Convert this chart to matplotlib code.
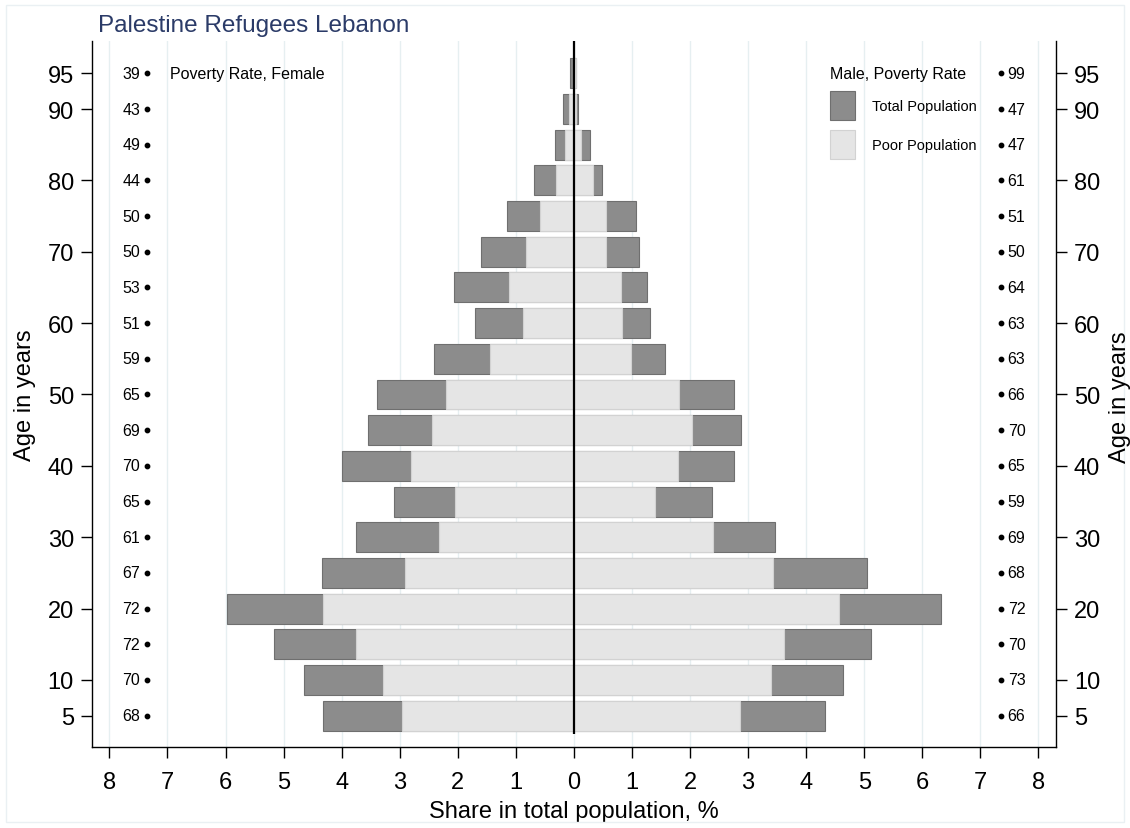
import numpy as np
import matplotlib
matplotlib.use("Agg")
import matplotlib.pyplot as plt
from matplotlib.patches import Patch, Rectangle

plt.rcParams['font.family'] = ['Liberation Sans', 'DejaVu Sans']

# age groups (centre of 5-year band)
ages = [5, 10, 15, 20, 25, 30, 35, 40, 45, 50, 55, 60, 65, 70, 75, 80, 85, 90, 95]

# share in total population, %
female_total = [4.32, 4.65, 5.16, 5.98, 4.34, 3.75, 3.10, 3.99, 3.55, 3.40,
                2.41, 1.70, 2.06, 1.60, 1.15, 0.69, 0.32, 0.19, 0.06]
female_poor = [2.96, 3.29, 3.75, 4.33, 2.91, 2.33, 2.05, 2.80, 2.45, 2.21,
               1.45, 0.88, 1.12, 0.82, 0.59, 0.31, 0.155, 0.09, 0.02]
male_total = [4.32, 4.63, 5.11, 6.33, 5.04, 3.47, 2.38, 2.75, 2.88, 2.76,
              1.56, 1.31, 1.25, 1.12, 1.07, 0.49, 0.28, 0.07, 0.04]
male_poor = [2.86, 3.39, 3.61, 4.56, 3.43, 2.40, 1.40, 1.79, 2.04, 1.81,
             0.99, 0.83, 0.81, 0.56, 0.55, 0.32, 0.13, 0.03, 0.04]

# poverty rate by age group
female_rate = [68, 70, 72, 72, 67, 61, 65, 70, 69, 65, 59, 51, 53, 50, 50, 44, 49, 43, 39]
male_rate = [66, 73, 70, 72, 68, 69, 59, 65, 70, 66, 63, 63, 64, 50, 51, 61, 47, 47, 99]

ytick_vals = [5, 10, 20, 30, 40, 50, 60, 70, 80, 90, 95]
xtick_vals = list(range(-8, 9))

dark = '#8c8c8c'
light = '#e5e5e5'

fig = plt.figure(figsize=(11.3, 8.29), dpi=100)
ax = fig.add_axes([0.0814, 0.0977, 0.853, 0.8513])

# faint outer frame
fig.patches.append(Rectangle((6 / 1130, 6 / 829), 1 - 12 / 1130, 1 - 12 / 829,
                             transform=fig.transFigure, fill=False,
                             edgecolor='#eaf0f3', linewidth=1))

# vertical grid
for xv in xtick_vals:
    ax.axvline(xv, color='#e6eff1', linewidth=1, zorder=0)

h = 4.2
ax.barh(ages, -np.array(female_total), height=h, color=dark, edgecolor='#6f6f6f', linewidth=0.8, zorder=2)
ax.barh(ages, male_total, height=h, color=dark, edgecolor='#6f6f6f', linewidth=0.8, zorder=2)
ax.barh(ages, -np.array(female_poor), height=h, color=light, edgecolor='#d2d2d2', linewidth=0.8, zorder=3)
ax.barh(ages, male_poor, height=h, color=light, edgecolor='#d2d2d2', linewidth=0.8, zorder=3)

ax.vlines(0, 2.4, 99.5, color='black', linewidth=1.6, zorder=4)

# poverty rate markers and labels
ax.scatter([-7.36] * len(ages), ages, s=10, color='black', zorder=4)
ax.scatter([7.36] * len(ages), ages, s=10, color='black', zorder=4)
for a, fr, mr in zip(ages, female_rate, male_rate):
    ax.text(-7.47, a, str(fr), ha='right', va='center', fontsize=11.5)
    ax.text(7.47, a, str(mr), ha='left', va='center', fontsize=11.5)

ax.text(-6.95, 95, 'Poverty Rate, Female', ha='left', va='center', fontsize=11.5)

handles = [Patch(facecolor=dark, edgecolor='#6f6f6f', linewidth=0.8, label='Total Population'),
           Patch(facecolor=light, edgecolor='#d2d2d2', linewidth=0.8, label='Poor Population')]
leg = ax.legend(handles=handles, title='Male, Poverty Rate', alignment='left',
                loc='upper left', bbox_to_anchor=(0.7656, 0.965), frameon=False,
                fontsize=10.5, title_fontsize=11.5, handlelength=1.75, handleheight=2.65,
                handletextpad=1.15, labelspacing=0.7, borderpad=0, borderaxespad=0)

ax.set_xlim(-8.3, 8.3)
ax.set_ylim(0.6, 99.5)
ax.set_xticks(xtick_vals)
ax.set_xticklabels([str(abs(v)) for v in xtick_vals])
ax.set_yticks(ytick_vals)
ax.tick_params(axis='both', labelsize=17, length=8, width=1, pad=5)
ax.tick_params(axis='x', pad=9)
ax.tick_params(axis='y', left=True, right=True, labelleft=True, labelright=True)

ax.spines['top'].set_visible(False)
for s in ['left', 'right', 'bottom']:
    ax.spines[s].set_linewidth(1)

ax.set_xlabel('Share in total population, %', fontsize=17, labelpad=5)
ax.set_ylabel('Age in years', fontsize=17, labelpad=8)
fig.text(1120 / 1130, 1 - 397 / 829, 'Age in years', fontsize=17, rotation=90,
         ha='center', va='center')

fig.text(98 / 1130, 1 - 26 / 829, 'Palestine Refugees Lebanon', fontsize=17.5,
         color='#2b3b68', ha='left', va='center')

fig.savefig('out.png', dpi=100)
